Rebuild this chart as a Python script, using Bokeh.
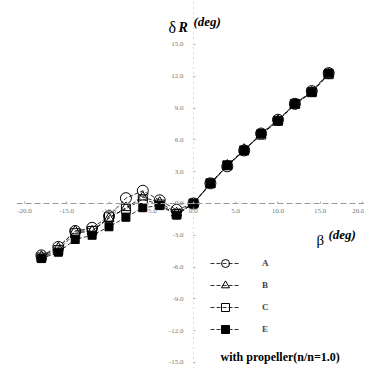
from bokeh.plotting import figure
from bokeh.models import (LinearAxis, Range1d, FixedTicker, PrintfTickFormatter,
                          Legend, LegendItem, Label)
from bokeh.embed import file_html
from bokeh.resources import INLINE

# ---- data ----
beta = [-18, -16, -14, -12, -10, -8, -6, -4, -2, 0, 2, 4, 6, 8, 10, 12, 14, 16]
dr_A = [-4.9, -4.1, -2.6, -2.3, -1.2, 0.5, 1.2, 0.3, -0.6, 0.0, 1.9, 3.5, 5.0, 6.6, 7.9, 9.4, 10.6, 12.3]
dr_B = [-5.0, -4.2, -2.6, -2.6, -1.4, -0.4, 0.6, 0.1, -0.9, 0.0, 1.8, 3.6, 5.1, 6.5, 7.8, 9.3, 10.5, 12.2]
dr_C = [-5.1, -4.4, -2.8, -2.6, -1.3, -0.5, 0.4, -0.1, -1.0, 0.0, 1.9, 3.6, 5.0, 6.5, 7.8, 9.4, 10.5, 12.2]
dr_E = [-5.2, -4.6, -3.4, -3.0, -2.2, -1.3, -0.4, -0.2, -1.1, 0.0, 1.9, 3.6, 5.0, 6.6, 7.8, 9.4, 10.5, 12.3]
series_names = ["A", "B", "C", "E"]
x_ticks = [-20, -15, -10, -5, 0, 5, 10, 15, 20]
y_ticks = [-15, -12, -9, -6, -3, 0, 3, 6, 9, 12, 15]
note = "with propeller(n/n=1.0)"

SERIF = "Liberation Serif"

p = figure(width=364, height=368, x_range=Range1d(-20.95, 20.24), y_range=Range1d(-15.57, 19.15),
           output_backend="svg", toolbar_location=None,
           x_axis_location=None, y_axis_location=None,
           min_border_left=16, min_border_right=0, min_border_top=0, min_border_bottom=0)
p.outline_line_color = None
p.xgrid.visible = False
p.ygrid.visible = False

xaxis = LinearAxis(fixed_location=0, ticker=FixedTicker(ticks=x_ticks),
                   formatter=PrintfTickFormatter(format="%.1f"))
yaxis = LinearAxis(fixed_location=0, ticker=FixedTicker(ticks=y_ticks),
                   formatter=PrintfTickFormatter(format="%.1f"))
for ax in (xaxis, yaxis):
    ax.major_label_text_font = SERIF
    ax.major_label_text_font_size = "7px"
    ax.major_label_text_color = "#777777"
    ax.major_tick_line_color = "#aaaaaa"
    ax.major_tick_in = 2
    ax.major_tick_out = 0
    ax.minor_tick_line_color = None
xaxis.axis_line_color = "#999999"
xaxis.axis_line_dash = "6 3"
xaxis.major_label_standoff = 6
yaxis.axis_line_color = "#bbbbbb"
yaxis.axis_line_dash = "1 4"
yaxis.major_label_standoff = 10
p.add_layout(xaxis, "below")
p.add_layout(yaxis, "left")

styles = {
    "A": dict(marker="circle", size=11, fill_color=None),
    "B": dict(marker="triangle", size=10, fill_color=None),
    "C": dict(marker="square", size=9, fill_color=None),
    "E": dict(marker="square", size=8, fill_color="black"),
}
data = {"A": dr_A, "B": dr_B, "C": dr_C, "E": dr_E}
items = []
for name in series_names:
    ln = p.line(beta, data[name], line_color="black", line_width=0.8, line_dash="4 2")
    st = styles[name]
    sc = p.scatter(beta, data[name], marker=st["marker"], size=st["size"],
                   fill_color=st["fill_color"], line_color="black", line_width=1)
    items.append(LegendItem(label=name, renderers=[ln, sc]))

legend = Legend(items=items, location=(194, 29), padding=0, margin=0,
                border_line_color=None, background_fill_alpha=0,
                glyph_width=30, glyph_height=20, label_height=20, spacing=2,
                label_standoff=22, label_text_font=SERIF, label_text_font_size="9px",
                label_text_font_style="bold")
p.add_layout(legend)

def lab(text, x, y, size, style):
    p.add_layout(Label(x=x, y=y, text=text, text_font=SERIF, text_font_size=size,
                       text_font_style=style, text_color="black",
                       text_baseline="alphabetic"))

lab("δ", -2.96, 16.6, "16px", "normal")
lab("R", -1.78, 16.6, "14px", "bold italic")
lab("(deg)", 0.0, 17.17, "13px", "bold italic")
lab("β", 14.56, -3.49, "15px", "normal")
lab("(deg)", 15.98, -2.92, "13px", "bold italic")
lab(note, 3.2, -14.53, "12px", "bold")

open("out.html", "w").write(file_html(p, INLINE))
